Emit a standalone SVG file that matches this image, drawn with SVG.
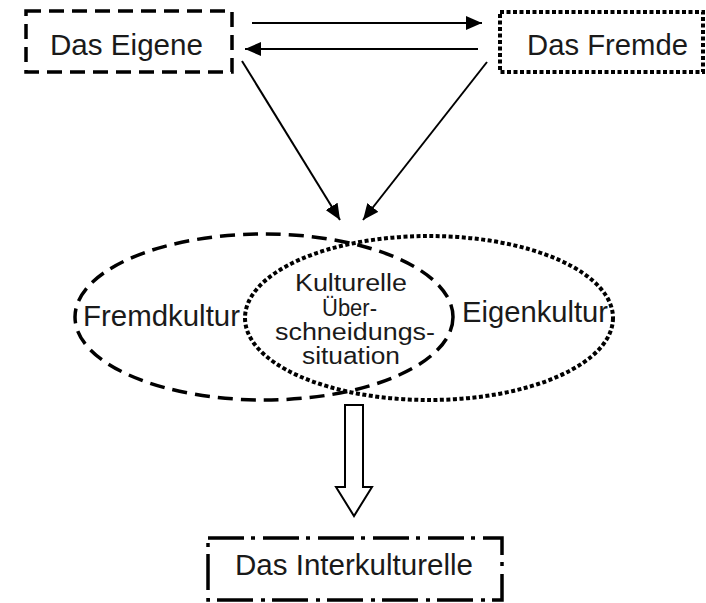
<svg xmlns="http://www.w3.org/2000/svg" width="706" height="603" viewBox="0 0 706 603">
  <defs>
    <style>
      text { font-family: "Liberation Sans", Arial, sans-serif; fill: #1a1a1a; }
      .big { font-size: 29px; }
      .small { font-size: 23px; }
      .dash { fill: none; stroke: #000; stroke-width: 3.5; stroke-dasharray: 15 8; }
      .dot { fill: none; stroke: #000; stroke-width: 4; stroke-dasharray: 4 2.5; }
      .dashdot { fill: none; stroke: #000; stroke-width: 3.5; stroke-dasharray: 36 7 4 8; }
      .line { fill: none; stroke: #000; stroke-width: 2; }
    </style>
    <marker id="head" markerUnits="userSpaceOnUse" markerWidth="18" markerHeight="14" refX="16" refY="7" orient="auto">
      <path d="M0,0 L16,7 L0,14 Z" fill="#000"/>
    </marker>
  </defs>

  <rect width="706" height="603" fill="#fff"/>

  <!-- connectors -->
  <g id="connectors">
    <line class="line" x1="252" y1="23" x2="482" y2="23" marker-end="url(#head)"/>
    <line class="line" x1="478" y1="49" x2="245" y2="49" marker-end="url(#head)"/>
    <line class="line" x1="242" y1="61" x2="340" y2="220" marker-end="url(#head)"/>
    <line class="line" x1="487" y1="62" x2="363" y2="220" marker-end="url(#head)"/>
    <!-- hollow block arrow down to the result -->
    <path d="M345,405 H363 V487 H372 L354,516 L336,487 H345 Z" fill="#fff" stroke="#000" stroke-width="2" stroke-linejoin="miter"/>
  </g>

  <g id="eigene">
    <rect class="dash" x="26" y="11" width="206" height="61"/>
    <text class="big" x="50" y="55" textLength="153" lengthAdjust="spacingAndGlyphs">Das Eigene</text>
  </g>

  <g id="fremde">
    <rect class="dot" x="500" y="12" width="203" height="60"/>
    <text class="big" x="527" y="55" textLength="161" lengthAdjust="spacingAndGlyphs">Das Fremde</text>
  </g>

  <g id="fremdkultur">
    <ellipse class="dash" cx="264" cy="317" rx="189" ry="83"/>
    <text class="big" x="83" y="326" textLength="157" lengthAdjust="spacingAndGlyphs">Fremdkultur</text>
  </g>

  <g id="eigenkultur">
    <ellipse class="dot" cx="429" cy="318" rx="184" ry="82"/>
    <text class="big" x="462" y="322" textLength="146" lengthAdjust="spacingAndGlyphs">Eigenkultur</text>
  </g>

  <g id="ueberschneidung">
    <text class="small" x="295" y="291" textLength="112" lengthAdjust="spacingAndGlyphs">Kulturelle</text>
    <text class="small" x="322" y="316" textLength="55" lengthAdjust="spacingAndGlyphs">Über-</text>
    <text class="small" x="275" y="340" textLength="160" lengthAdjust="spacingAndGlyphs">schneidungs-</text>
    <text class="small" x="302" y="364" textLength="98" lengthAdjust="spacingAndGlyphs">situation</text>
  </g>

  <g id="interkulturelle">
    <rect class="dashdot" x="208" y="538" width="294" height="62"/>
    <text class="big" x="235" y="575" textLength="238" lengthAdjust="spacingAndGlyphs">Das Interkulturelle</text>
  </g>
</svg>
